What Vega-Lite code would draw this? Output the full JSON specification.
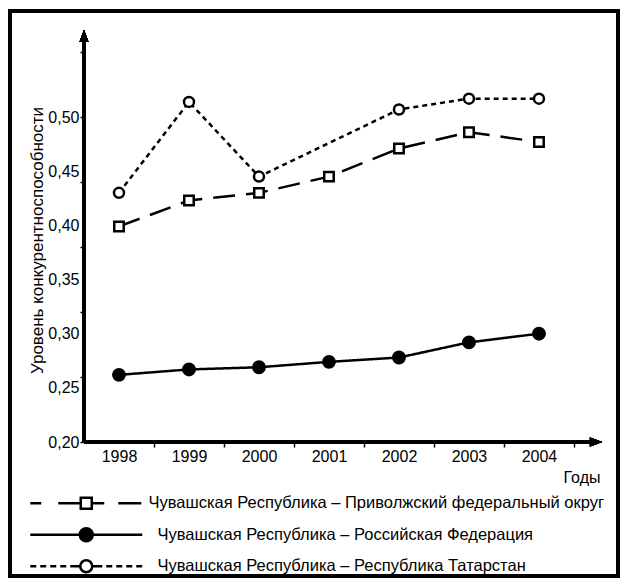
{
  "$schema": "https://vega.github.io/schema/vega-lite/v6.json",
  "width": 608,
  "height": 565,
  "autosize": {"type": "none"},
  "padding": {"left": 10, "top": 11, "right": 5, "bottom": 4},
  "background": "white",
  "config": {
    "font": "Liberation Sans",
    "view": {"stroke": "black", "strokeWidth": 4},
    "axis": {"labelColor": "black", "titleColor": "black", "tickColor": "black", "grid": false, "domain": false, "labelFlush": false, "labelOverlap": false, "titleFontWeight": "normal"}
  },
  "data": {
    "values": [
      {"year": 1998, "value": 0.399, "series": "Чувашская Республика – Приволжский федеральный округ"},
      {"year": 1999, "value": 0.423, "series": "Чувашская Республика – Приволжский федеральный округ"},
      {"year": 2000, "value": 0.430, "series": "Чувашская Республика – Приволжский федеральный округ"},
      {"year": 2001, "value": 0.445, "series": "Чувашская Республика – Приволжский федеральный округ"},
      {"year": 2002, "value": 0.471, "series": "Чувашская Республика – Приволжский федеральный округ"},
      {"year": 2003, "value": 0.486, "series": "Чувашская Республика – Приволжский федеральный округ"},
      {"year": 2004, "value": 0.477, "series": "Чувашская Республика – Приволжский федеральный округ"},
      {"year": 1998, "value": 0.262, "series": "Чувашская Республика – Российская Федерация"},
      {"year": 1999, "value": 0.267, "series": "Чувашская Республика – Российская Федерация"},
      {"year": 2000, "value": 0.269, "series": "Чувашская Республика – Российская Федерация"},
      {"year": 2001, "value": 0.274, "series": "Чувашская Республика – Российская Федерация"},
      {"year": 2002, "value": 0.278, "series": "Чувашская Республика – Российская Федерация"},
      {"year": 2003, "value": 0.292, "series": "Чувашская Республика – Российская Федерация"},
      {"year": 2004, "value": 0.300, "series": "Чувашская Республика – Российская Федерация"},
      {"year": 1998, "value": 0.430, "series": "Чувашская Республика – Республика Татарстан"},
      {"year": 1999, "value": 0.514, "series": "Чувашская Республика – Республика Татарстан"},
      {"year": 2000, "value": 0.445, "series": "Чувашская Республика – Республика Татарстан"},
      {"year": 2002, "value": 0.507, "series": "Чувашская Республика – Республика Татарстан"},
      {"year": 2003, "value": 0.517, "series": "Чувашская Республика – Республика Татарстан"},
      {"year": 2004, "value": 0.517, "series": "Чувашская Республика – Республика Татарстан"}
    ]
  },
  "resolve": {"axis": {"x": "independent", "y": "independent"}},
  "layer": [
    {
      "mark": {"type": "rule", "color": "black", "strokeWidth": 2.5},
      "encoding": {
        "x": {"datum": 1997.5, "type": "quantitative", "scale": {"domain": [1996.443, 2005.129], "nice": false, "zero": false}, "axis": null},
        "y": {"datum": 0.2, "type": "quantitative", "scale": {"domain": [0.0763, 0.5979], "nice": false, "zero": false}, "axis": null},
        "y2": {"datum": 0.572}
      }
    },
    {
      "mark": {"type": "rule", "color": "black", "strokeWidth": 2.5},
      "encoding": {
        "x": {"datum": 1997.5, "type": "quantitative", "axis": null},
        "x2": {"datum": 2004.78},
        "y": {"datum": 0.2, "type": "quantitative", "axis": null}
      }
    },
    {
      "mark": {"type": "point", "shape": "M0,-6L-4.5,6L4.5,6Z", "size": 4, "filled": true, "color": "black", "opacity": 1},
      "encoding": {
        "x": {"datum": 1997.5, "type": "quantitative", "axis": null},
        "y": {"datum": 0.5748, "type": "quantitative", "axis": null}
      }
    },
    {
      "mark": {"type": "point", "shape": "M6,0L-6,-4.5L-6,4.5Z", "size": 4, "filled": true, "color": "black", "opacity": 1},
      "encoding": {
        "x": {"datum": 2004.814, "type": "quantitative", "axis": null},
        "y": {"datum": 0.2, "type": "quantitative", "axis": null}
      }
    },
    {
      "mark": {"type": "line", "strokeWidth": 2.5},
      "encoding": {
        "x": {"field": "year", "type": "quantitative",
          "axis": {"orient": "bottom", "offset": -134, "values": [1998.5, 1999.5, 2000.5, 2001.5, 2002.5, 2003.5, 2004.5], "labels": false, "ticks": true, "tickSize": 5, "tickWidth": 1.5,
            "title": "Годы", "titleX": 590, "titleY": 35, "titleAlign": "right", "titleBaseline": "middle", "titleFontSize": 16, "titleAnchor": null}},
        "y": {"field": "value", "type": "quantitative",
          "axis": {"orient": "left", "offset": -74, "values": [0.2, 0.26, 0.32, 0.38, 0.44, 0.5, 0.56], "labels": false, "ticks": true, "tickSize": 4, "tickWidth": 1.5, "title": null}},
        "detail": {"field": "series"},
        "strokeDash": {
          "condition": [
            {"test": "indexof(datum.series,'Приволж')>=0", "value": [22, 11]},
            {"test": "indexof(datum.series,'Российская')>=0", "value": [1, 0]}
          ],
          "value": [5, 4]
        },
        "color": {"field": "series", "type": "nominal",
          "scale": {"domain": ["Чувашская Республика – Приволжский федеральный округ", "Чувашская Республика – Российская Федерация", "Чувашская Республика – Республика Татарстан"], "range": ["black", "black", "black"]},
          "legend": {
            "orient": "none", "legendX": 68, "legendY": 484, "title": null, "direction": "vertical",
            "symbolSize": 4, "symbolStrokeWidth": 2.5, "symbolStrokeColor": "black",
            "labelFontSize": 16.5, "labelColor": "black", "labelOffset": 54, "labelLimit": 600, "rowPadding": 8.5, "padding": 0,
            "encode": {
              "symbols": {"update": {
                "shape": {"signal": "indexof(datum.value,'Приволж')>=0 ? 'M-56,0H-45M-28,0H-5.5M5.5,0H18M32,0H55M-5.5,-5.5H5.5V5.5H-5.5Z' : (indexof(datum.value,'Российская')>=0 ? 'M-56,0H56M-6.5,0A6.5,6.5,0,1,1,6.5,0A6.5,6.5,0,1,1,-6.5,0Z' : 'M-56,0H-50M-46,0H-40M-36,0H-30M-26,0H-20M-16,0H-6M6,0H16M20,0H26M30,0H36M40,0H46M50,0H56M-6,0A6,6,0,1,1,6,0A6,6,0,1,1,-6,0Z')"},
                "fill": {"signal": "indexof(datum.value,'Российская')>=0 ? 'black' : 'white'"},
                "fillOpacity": {"value": 1},
                "stroke": {"value": "black"},
                "strokeOpacity": {"value": 1},
                "strokeWidth": {"value": 2.5},
                "strokeDash": {"value": []}
              }},
              "labels": {"update": {"dx": {"signal": "indexof(datum.value,'Приволж')>=0 ? 0 : 9"}}}
            }
          }
        }
      }
    },
    {
      "mark": {"type": "point", "filled": true, "stroke": "black", "strokeWidth": 2.5, "opacity": 1},
      "encoding": {
        "x": {"field": "year", "type": "quantitative",
          "axis": {"orient": "bottom", "offset": -134, "values": [1998, 1999, 2000, 2001, 2002, 2003, 2004], "format": "d", "ticks": false, "labelPadding": 6, "labelFontSize": 16, "title": null}},
        "y": {"field": "value", "type": "quantitative",
          "axis": {"orient": "left", "offset": -74, "values": [0.2, 0.25, 0.3, 0.35, 0.4, 0.45, 0.5], "labelExpr": "replace(format(datum.value,'.2f'),'.',',')", "ticks": false, "labelPadding": 5, "labelFontSize": 16,
            "title": "Уровень конкурентноспособности", "titleX": -47, "titleY": 229, "titleAngle": -90, "titleAlign": "center", "titleBaseline": "middle", "titleFontSize": 17, "titleAnchor": null}},
        "shape": {"condition": {"test": "indexof(datum.series,'Приволж')>=0", "value": "square"}, "value": "circle"},
        "fill": {"condition": {"test": "indexof(datum.series,'Российская')>=0", "value": "black"}, "value": "white"},
        "size": {"condition": [
          {"test": "indexof(datum.series,'Приволж')>=0", "value": 90},
          {"test": "indexof(datum.series,'Российская')>=0", "value": 130}
        ], "value": 100}
      }
    }
  ]
}
